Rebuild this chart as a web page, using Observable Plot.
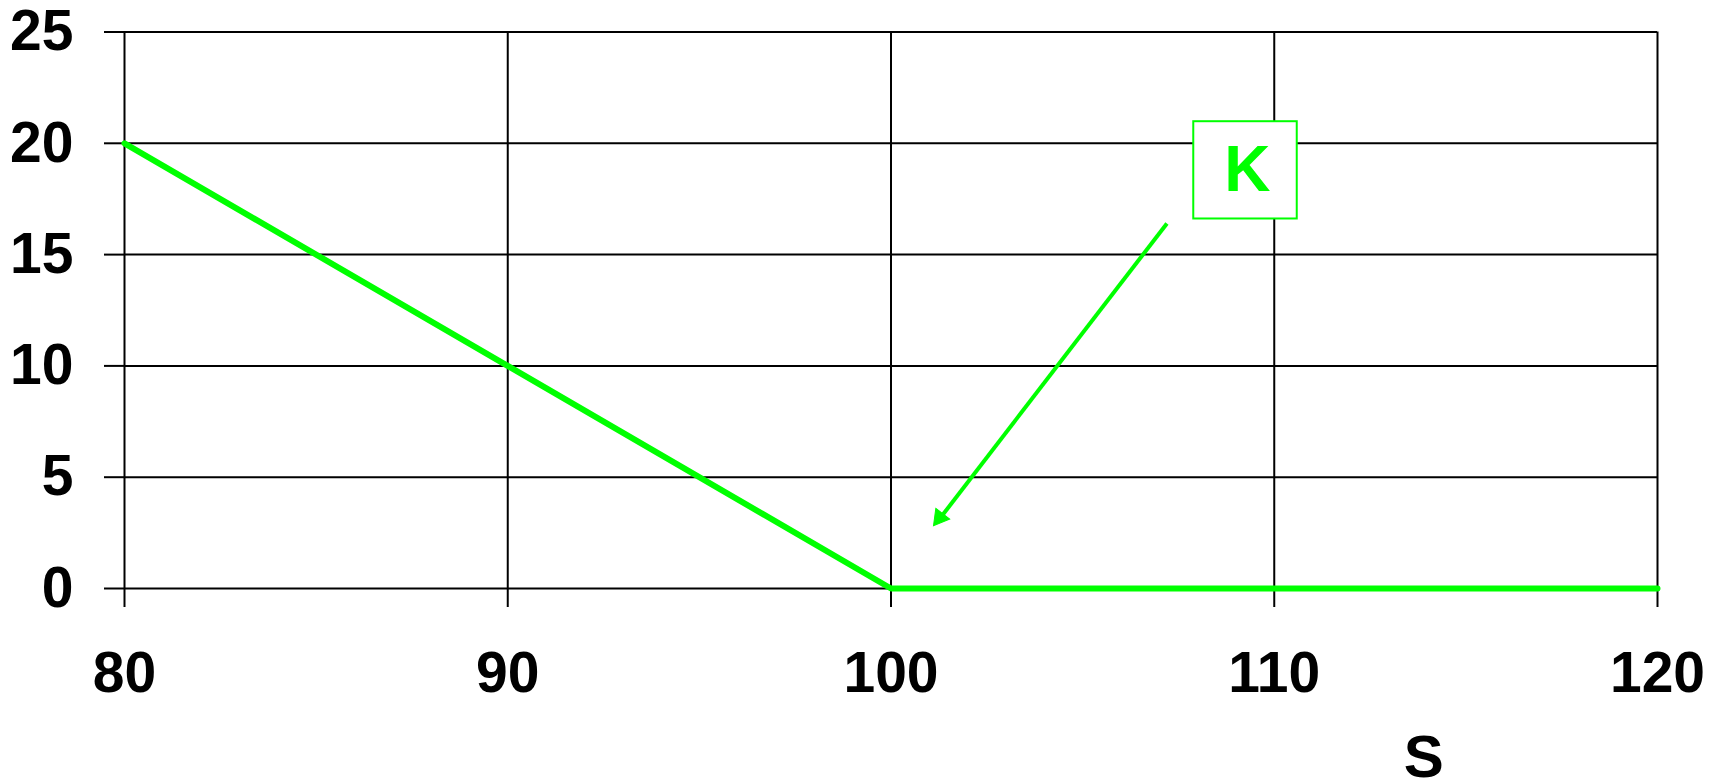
<!DOCTYPE html>
<html>
<head>
<meta charset="utf-8">
<script src="https://cdn.jsdelivr.net/npm/d3@7"></script>
<script src="https://cdn.jsdelivr.net/npm/@observablehq/plot@0.6"></script>
<style>
  html, body { margin: 0; padding: 0; background: white; }
</style>
</head>
<body>
<div id="chart"></div>
<script>
// Payoff of a put option with strike K = 100
const stockPrices = [80, 100, 120];
const payoffs = [20, 0, 0];
const xTicks = [80, 90, 100, 110, 120];
const yTicks = [0, 5, 10, 15, 20, 25];
const xAxisLabel = "S";
const strikeLabel = "K";

// annotation anchors in data units
const strikeBox = [{x1: 107.9, x2: 110.6, y1: 16.6, y2: 20.97}];
const strikeText = [{x: 109.3, y: 18.77, text: strikeLabel}];
const arrowShaft = [{x1: 107.2, y1: 16.4, x2: 101.3, y2: 3.2}];
const arrowHead = [{x: 101.27, y: 3.18}];
const axisTitle = [{x: 113.9, y: -7.6, text: xAxisLabel}];

const series = stockPrices.map((s, i) => ({s, v: payoffs[i]}));
const green = "#00ff00";

const chart = Plot.plot({
  width: 1721,
  height: 784,
  marginLeft: 124,
  marginRight: 64,
  marginTop: 31.5,
  marginBottom: 196,
  x: {domain: [80, 120]},
  y: {domain: [0, 25]},
  style: {fontFamily: "'Liberation Sans', Arial, sans-serif", fontWeight: "bold", background: "white", color: "black"},
  marks: [
    Plot.gridY(yTicks, {stroke: "black", strokeOpacity: 1, strokeWidth: 2}),
    Plot.gridX(xTicks, {stroke: "black", strokeOpacity: 1, strokeWidth: 2}),
    Plot.axisY(yTicks, {tickSize: 20, tickPadding: 31, fontSize: 57, fontWeight: "bold", stroke: "black", strokeWidth: 2, fill: "black", label: null}),
    Plot.axisX(xTicks, {tickSize: 19, tickPadding: 44, fontSize: 57, fontWeight: "bold", stroke: "black", strokeWidth: 2, fill: "black", label: null}),
    Plot.line(series, {x: "s", y: "v", stroke: green, strokeWidth: 6}),
    Plot.rect(strikeBox, {x1: "x1", x2: "x2", y1: "y1", y2: "y2", fill: "white", stroke: green, strokeWidth: 2}),
    Plot.text(strikeText, {x: "x", y: "y", text: "text", fontSize: 64, fontWeight: "bold", fill: green}),
    Plot.link(arrowShaft, {x1: "x1", y1: "y1", x2: "x2", y2: "y2", stroke: green, strokeWidth: 4}),
    Plot.dot(arrowHead, {x: "x", y: "y", symbol: "triangle", r: 6.5, rotate: 217.7, fill: green, stroke: green, strokeWidth: 1}),
    Plot.text(axisTitle, {x: "x", y: "y", text: "text", fontSize: 60, fontWeight: "bold", fill: "black"})
  ]
});
document.getElementById("chart").appendChild(chart);
</script>
</body>
</html>
